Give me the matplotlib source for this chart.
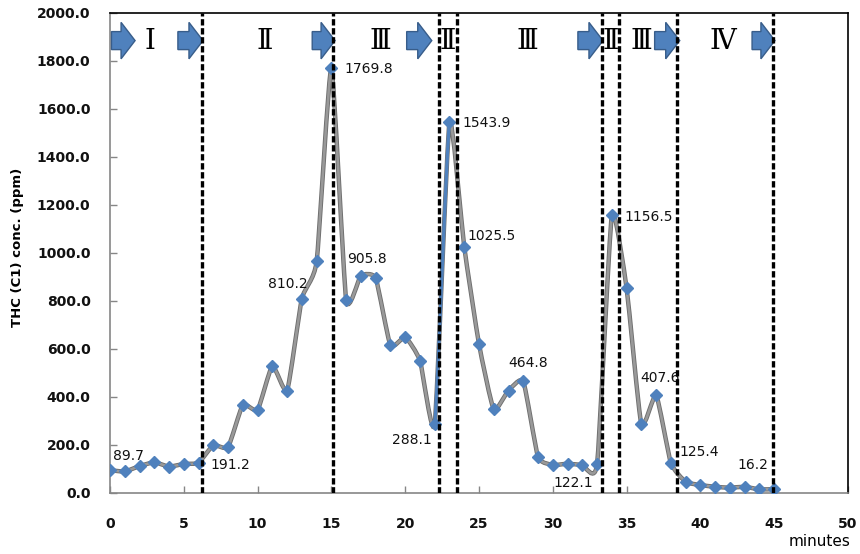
import numpy as np
import matplotlib
matplotlib.use("Agg")
import matplotlib.pyplot as plt
import matplotlib.patheffects as pe
from matplotlib.path import Path
from matplotlib.patches import PathPatch, FancyArrow

# THC (C1) concentration, one reading per minute
minutes = np.arange(46)
thc_ppm = [95.0, 89.7, 112.0, 128.0, 110.0, 121.0, 126.0, 199.0, 191.2, 367.0,
           346.0, 530.0, 427.0, 810.2, 965.0, 1769.8, 805.0, 905.8, 895.0, 615.0,
           649.0, 552.0, 288.1, 1543.9, 1025.5, 621.0, 349.0, 427.0, 464.8, 151.0,
           117.0, 122.1, 117.0, 121.0, 1156.5, 853.0, 286.0, 407.6, 125.4, 47.0,
           33.0, 26.0, 22.0, 26.0, 15.0, 16.2]

# points that carry a value label
labelled = [1, 8, 13, 15, 17, 22, 23, 24, 28, 31, 34, 37, 38, 45]

# phase boundaries (minutes) and phase names
boundaries = [6.2, 15.1, 22.3, 23.5, 33.3, 34.5, 38.4, 44.9]
phase_names = ["Ⅰ", "Ⅱ", "Ⅲ", "Ⅱ", "Ⅲ", "Ⅱ", "Ⅲ", "Ⅳ"]
phase_centers = [2.7, 10.5, 18.3, 22.9, 28.25, 33.9, 36.0, 41.5]
arrow_spans = [(0.1, 1.7), (4.6, 6.3), (13.7, 15.25), (20.1, 21.8),
               (31.7, 33.4), (36.9, 38.6), (43.5, 45.05)]

BLUE = "#4F81BD"


def smooth_path(x, y, start=0, stop=None, k=1 / 12):
    """Cubic Bezier through the points with soft tangents (smoothed line look)."""
    n = len(x)
    stop = n - 1 if stop is None else stop
    verts = [(x[start], y[start])]
    codes = [Path.MOVETO]
    for i in range(start, stop):
        a = max(i - 1, 0)
        d = min(i + 2, n - 1)
        c1 = (x[i] + (x[i + 1] - x[a]) * k, y[i] + (y[i + 1] - y[a]) * k)
        c2 = (x[i + 1] - (x[d] - x[i]) * k, y[i + 1] - (y[d] - y[i]) * k)
        verts += [c1, c2, (x[i + 1], y[i + 1])]
        codes += [Path.CURVE4] * 3
    return Path(verts, codes)


fig = plt.figure(figsize=(8.6, 5.54), dpi=100)
ax = fig.add_axes([110 / 860, 61 / 554, 738 / 860, 480 / 554])

x = minutes.astype(float)
y = np.array(thc_ppm)

# grey smoothed line, with the 22->23 jump drawn in blue
grey = PathPatch(smooth_path(x, y), fill=False, edgecolor="#999999", lw=1.9, zorder=3,
                 path_effects=[pe.Stroke(linewidth=3.2, foreground="#6e6e6e"), pe.Normal()])
ax.add_patch(grey)
jump = PathPatch(smooth_path(x, y, 22, 23), fill=False, edgecolor=BLUE, lw=2.3, zorder=3.5)
ax.add_patch(jump)

ax.plot(x, y, linestyle="none", marker="D", ms=6.4, color=BLUE, mec=BLUE, zorder=4)

# value labels, offsets in pixels from each point (left edge of the text)
offsets = {1: (-12, 15), 8: (-18, -18), 13: (-34, 15), 15: (13, -1), 17: (-14, 17),
           22: (-43, -16), 23: (13, -1), 24: (3, 11), 28: (-15, 18), 31: (-14, -19),
           34: (13, -2), 37: (-16, 17), 38: (9, 11), 45: (-37, 24)}
for i in labelled:
    ax.annotate(f"{thc_ppm[i]:.1f}", (x[i], y[i]), xytext=offsets[i],
                textcoords="offset pixels", ha="left", va="center",
                fontsize=10, color="#111111", zorder=5)

# phase boundaries
for b in boundaries:
    ax.axvline(b, color="black", lw=2.4, linestyle=(0, (1.9, 0.8)), zorder=6)

# block arrows and phase numerals along the top
for x0, x1 in arrow_spans:
    ax.add_patch(FancyArrow(x0, 1885, x1 - x0, 0, width=75, head_width=152,
                            head_length=0.95, length_includes_head=True,
                            facecolor=BLUE, edgecolor="#385D8A", lw=1.0, zorder=5))
for name, cx in zip(phase_names, phase_centers):
    ax.text(cx, 1880, name, ha="center", va="center", fontsize=20,
            family=["DejaVu Serif", "Noto Sans CJK KR"], color="black", zorder=5)

ax.set_xlim(0, 50)
ax.set_ylim(0, 2000)
ax.set_xticks(np.arange(0, 51, 5))
ax.set_yticks(np.arange(0, 2001, 200))
ax.set_yticklabels([f"{v:.1f}" for v in np.arange(0, 2001, 200)])
ax.tick_params(direction="in", length=5, width=1, color="#868686",
               labelsize=10, labelcolor="#111111")
ax.tick_params(axis="y", pad=14)
ax.tick_params(axis="x", pad=17)
for lab in ax.get_xticklabels() + ax.get_yticklabels():
    lab.set_fontweight("bold")

for side in ("left", "bottom"):
    ax.spines[side].set_color("#868686")
for side in ("top", "right"):
    ax.spines[side].set_color("black")
for s in ax.spines.values():
    s.set_linewidth(1.2)

fig.text(18 / 860, 0.554, "THC (C1) conc. (ppm)", rotation=90, ha="center", va="center",
         fontsize=9.5, fontweight="bold")
fig.text(820 / 860, 1 - 542 / 554, "minutes", ha="center", va="center", fontsize=11)

fig.savefig("out.png", dpi=100)
